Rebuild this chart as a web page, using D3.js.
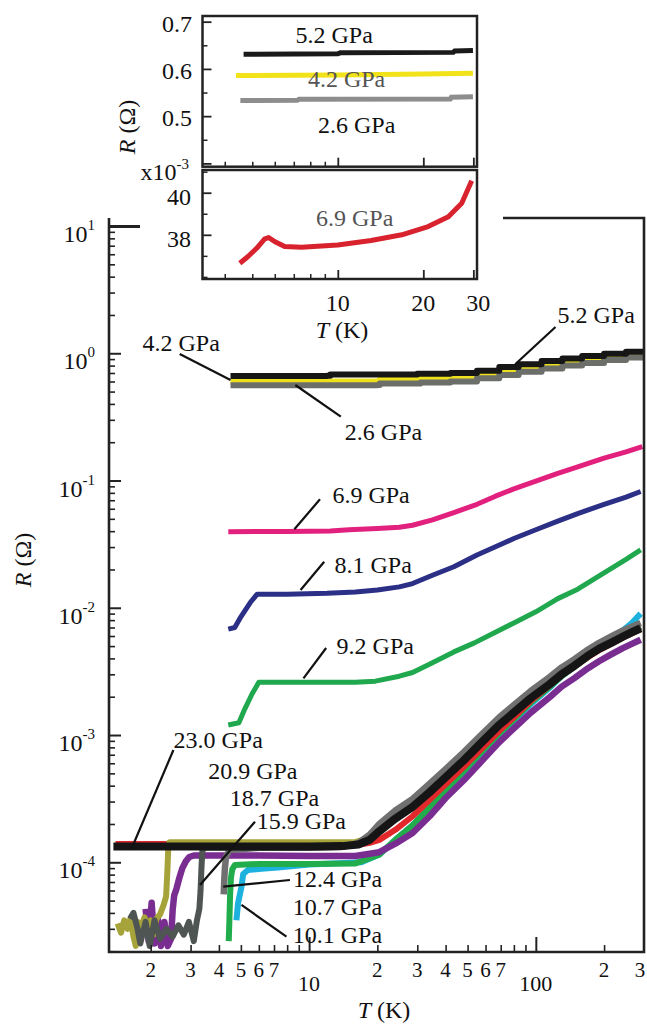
<!DOCTYPE html>
<html>
<head>
<meta charset="utf-8">
<script src="https://cdn.jsdelivr.net/npm/d3@7/dist/d3.min.js"></script>
<style>
html,body{margin:0;padding:0;background:#fff;}
svg{display:block;}
text{font-family:"Liberation Serif","Times New Roman",serif;fill:#111;}
</style>
</head>
<body>
<svg id="chart" width="647" height="1026"></svg>
<script>
// ================= DATA =================
// Main panel: [T (K), R (ohm)]
const mainP52 = [[4.5,0.662],[12,0.665],[12.4,0.682],[30,0.69],[42,0.70],[55,0.73],[69,0.78],[84,0.82],[106,0.87],[131,0.91],[160,0.95],[200,0.99],[250,1.03],[298,1.06]];
const mainP42 = [[4.5,0.60],[20,0.603],[20.5,0.62],[31,0.635],[42,0.645],[55,0.68],[69,0.72],[84,0.76],[106,0.81],[131,0.85],[160,0.89],[200,0.93],[250,0.97],[298,1.0]];
const mainP26 = [[4.5,0.56],[20,0.562],[20.5,0.578],[31,0.59],[42,0.60],[55,0.635],[69,0.675],[84,0.715],[106,0.76],[131,0.80],[160,0.84],[200,0.885],[250,0.925],[298,0.955]];
const mainP69 = [[4.4,0.0395],[6,0.0398],[8,0.0398],[10,0.040],[12.4,0.0402],[15,0.041],[20,0.042],[25,0.043],[28.6,0.0445],[35,0.049],[43.5,0.056],[55,0.065],[66,0.075],[80,0.086],[100,0.099],[125,0.114],[153,0.128],[200,0.15],[250,0.168],[295,0.185]];
const mainP81 = [[4.4,0.0068],[4.7,0.0070],[5.0,0.0085],[5.5,0.011],[5.9,0.0128],[8,0.0128],[12,0.013],[16,0.0133],[20,0.0138],[25,0.0146],[28.6,0.0155],[35,0.018],[43.5,0.021],[55,0.026],[66,0.030],[80,0.035],[100,0.041],[125,0.048],[153,0.055],[200,0.065],[250,0.074],[290,0.082]];
const mainP92 = [[4.4,0.0012],[4.9,0.00125],[5.2,0.0016],[5.6,0.0021],[6.0,0.0026],[8,0.0026],[12,0.0026],[16,0.0026],[19.6,0.00265],[25,0.0029],[28.6,0.0031],[35,0.0037],[43.5,0.0045],[53.6,0.0053],[66,0.0064],[80,0.0076],[100,0.0093],[125,0.0118],[153,0.014],[200,0.0188],[250,0.024],[290,0.0285]];
const lowBlack = [[1.37,1.33e-4],[3,1.33e-4],[6,1.33e-4],[10,1.33e-4],[14,1.34e-4],[16.5,1.38e-4],[18.5,1.5e-4],[20.4,1.75e-4],[24,2.2e-4],[28.6,2.72e-4],[34,3.55e-4],[40,4.65e-4],[48,6.3e-4],[56,8.3e-4],[69,1.2e-3],[80,1.5e-3],[95,1.95e-3],[115,2.5e-3],[130,3.0e-3],[148,3.5e-3],[170,4.2e-3],[190,4.75e-3],[215,5.3e-3],[241,5.9e-3],[265,6.4e-3],[290,6.9e-3]];
const lowRed = [[1.4,1.39e-4],[4,1.39e-4],[8,1.38e-4],[12,1.37e-4],[16.5,1.37e-4],[18.5,1.42e-4],[20.4,1.5e-4],[24,1.8e-4],[28.6,2.3e-4],[34,3.1e-4],[40,4.1e-4],[48,5.6e-4],[56,7.4e-4],[69,1.08e-3],[80,1.38e-3],[95,1.85e-3],[115,2.45e-3],[130,2.95e-3],[148,3.45e-3],[170,4.1e-3],[190,4.65e-3],[215,5.2e-3],[241,5.8e-3],[265,6.3e-3],[290,6.8e-3]];
const lowOlive = [[1.43,3.3e-5],[1.48,2.8e-5],[1.53,3.5e-5],[1.58,3.0e-5],[1.63,3.6e-5],[1.68,2.6e-5],[1.72,2.2e-5],[1.76,3.4e-5],[1.82,3.1e-5],[1.88,3.7e-5],[1.94,2.9e-5],[2.0,3.5e-5],[2.06,2.7e-5],[2.12,3.6e-5],[2.2,3.9e-5],[2.28,4.6e-5],[2.34,5.4e-5],[2.37,8.5e-5],[2.39,1.25e-4],[2.42,1.44e-4],[5,1.44e-4],[10,1.44e-4],[16,1.44e-4],[18.5,1.56e-4],[20.4,1.8e-4],[24,2.25e-4],[28.6,2.76e-4],[34,3.6e-4],[40,4.7e-4],[48,6.4e-4],[56,8.4e-4],[69,1.22e-3],[80,1.52e-3],[95,1.98e-3],[115,2.54e-3],[130,3.05e-3],[148,3.55e-3],[170,4.25e-3],[190,4.8e-3],[215,5.4e-3],[241,6.0e-3],[265,6.5e-3],[290,7.0e-3]];
const lowPurple = [[1.9,4.3e-5],[1.96,2.4e-5],[2.02,4.8e-5],[2.08,2.3e-5],[2.15,3.6e-5],[2.22,2.2e-5],[2.3,3.4e-5],[2.38,2.2e-5],[2.46,2.5e-5],[2.5,4.2e-5],[2.54,5.5e-5],[2.6,6.2e-5],[2.68,7.6e-5],[2.76,9.0e-5],[2.86,1.02e-4],[2.96,1.1e-4],[3.1,1.13e-4],[6,1.13e-4],[10,1.12e-4],[16,1.12e-4],[20.4,1.2e-4],[24,1.4e-4],[28.6,1.7e-4],[34,2.3e-4],[40,3.2e-4],[48,4.4e-4],[56,5.9e-4],[69,8.8e-4],[80,1.13e-3],[95,1.5e-3],[115,1.98e-3],[130,2.4e-3],[148,2.8e-3],[170,3.35e-3],[190,3.8e-3],[215,4.3e-3],[241,4.8e-3],[265,5.2e-3],[290,5.6e-3]];
const lowDarkGray = [[1.62,3.6e-5],[1.68,4.0e-5],[1.75,3.0e-5],[1.8,2.3e-5],[1.9,3.4e-5],[1.98,2.2e-5],[2.08,3.5e-5],[2.2,2.5e-5],[2.35,3.0e-5],[2.5,2.6e-5],[2.65,3.2e-5],[2.8,2.7e-5],[2.95,3.4e-5],[3.1,2.4e-5],[3.2,3.5e-5],[3.28,4.3e-5],[3.32,6.0e-5],[3.35,9.0e-5],[3.38,1.22e-4],[3.45,1.3e-4],[8,1.3e-4],[14,1.32e-4],[16.5,1.4e-4],[18.5,1.55e-4],[20.4,1.8e-4],[24,2.27e-4],[28.6,2.8e-4],[34,3.65e-4],[40,4.8e-4],[48,6.5e-4],[56,8.6e-4],[69,1.24e-3],[80,1.55e-3],[95,2.0e-3],[115,2.58e-3],[130,3.1e-3],[148,3.6e-3],[170,4.3e-3],[190,4.9e-3],[215,5.45e-3],[241,6.05e-3],[265,6.6e-3],[290,7.1e-3]];
const lowGray = [[4.2,5.6e-5],[4.22,7.0e-5],[4.25,9.0e-5],[4.3,1.1e-4],[4.45,1.25e-4],[6,1.3e-4],[10,1.3e-4],[14,1.32e-4],[16.5,1.42e-4],[18.5,1.65e-4],[20.4,2.0e-4],[24,2.55e-4],[28.6,3.15e-4],[34,4.15e-4],[40,5.4e-4],[48,7.3e-4],[56,9.6e-4],[69,1.38e-3],[80,1.72e-3],[95,2.22e-3],[115,2.85e-3],[130,3.4e-3],[148,3.95e-3],[170,4.7e-3],[190,5.3e-3],[215,5.95e-3],[241,6.6e-3],[265,7.1e-3],[290,7.6e-3]];
const lowGreen = [[4.42,2.4e-5],[4.45,3.5e-5],[4.48,5.5e-5],[4.52,7.5e-5],[4.58,8.8e-5],[4.7,9.5e-5],[6,9.7e-5],[10,9.7e-5],[16,9.8e-5],[20.4,1.15e-4],[24,1.5e-4],[28.6,1.95e-4],[34,2.7e-4],[40,3.7e-4],[48,5.2e-4],[56,7.0e-4],[69,1.03e-3],[80,1.33e-3],[95,1.8e-3],[115,2.4e-3],[130,2.9e-3],[148,3.45e-3],[170,4.15e-3],[190,4.75e-3],[215,5.4e-3],[241,6.1e-3],[265,6.6e-3],[290,7.1e-3]];
const lowCyan = [[4.78,3.5e-5],[4.86,4.8e-5],[5.03,6.4e-5],[5.12,8.1e-5],[5.37,8.7e-5],[6.16,8.9e-5],[7.28,9.1e-5],[10,9.6e-5],[17,1.0e-4],[20.4,1.15e-4],[24,1.5e-4],[28.6,1.95e-4],[34,2.7e-4],[40,3.65e-4],[48,5.1e-4],[56,6.8e-4],[69,1.0e-3],[80,1.3e-3],[95,1.75e-3],[115,2.35e-3],[130,2.9e-3],[148,3.45e-3],[170,4.2e-3],[190,4.9e-3],[215,5.7e-3],[241,6.6e-3],[265,7.6e-3],[290,9.0e-3]];

// Inset: upper panel R (ohm), lower panel R (x10^-3 ohm)
const insetP52 = [[4.66,0.631],[10,0.632],[10.2,0.634],[25.5,0.635],[25.8,0.638],[29.9,0.639]];
const insetP42 = [[4.38,0.586],[10,0.587],[20,0.589],[29.9,0.591]];
const insetP26 = [[4.54,0.533],[7.2,0.5335],[7.3,0.5356],[24.9,0.5365],[25.1,0.540],[29.9,0.541]];
const insetP69 = [[4.52,36.65],[4.83,36.97],[5.18,37.36],[5.53,37.81],[5.71,37.87],[5.99,37.68],[6.5,37.44],[7.45,37.41],[10,37.52],[13.1,37.73],[16.8,38.0],[20.8,38.39],[24.5,38.86],[27.3,39.5],[29.6,40.57]];

// Ticks
const mainYExps = [1, 0, -1, -2, -3, -4];
const mainXDigitTicks = [2,3,4,5,6,7,20,30,40,50,60,70,200,300];
const mainXMajorTicks = [10, 100];
const insetUpperYLabels = [0.5, 0.6, 0.7];
const insetUpperYMajor = [0.4, 0.5, 0.6, 0.7];
const insetUpperYMinor = [0.45, 0.55, 0.65];
const insetLowerYLabels = [38, 40];
const insetLowerYMinor = [36, 37, 39, 41];
const insetXLabels = [10, 20, 30];
const insetXMinor = [4,5,6,7,8,9];

// ================= DRAWING =================
const svg = d3.select("#chart");
const FONT = 23, LFONT = 24;

// ---- main scales ----
const x = d3.scaleLog().domain([1.31, 300]).range([109, 644]);
const y = d3.scaleLog().domain([Math.pow(10,-4.705), Math.pow(10,1.063)]).range([952, 218]);

const lin = d3.line().x(d => x(d[0])).y(d => y(d[1]));
const stp = d3.line().curve(d3.curveStepAfter).x(d => x(d[0])).y(d => y(d[1]));

svg.append("defs").append("clipPath").attr("id","mainClip")
  .append("rect").attr("x",109).attr("y",218).attr("width",535).attr("height",734);

const mainSeries = [
  {data: mainP42, color:"#ece01c", w:6, step:true},
  {data: mainP26, color:"#6c6e6a", w:6, step:true},
  {data: mainP52, color:"#161616", w:6, step:true},
  {data: mainP69, color:"#e2217f", w:5},
  {data: mainP81, color:"#2c2f86", w:5},
  {data: mainP92, color:"#1fa84d", w:5},
  {data: lowCyan, color:"#1db1de", w:6},
  {data: lowGreen, color:"#22ad4c", w:6},
  {data: lowPurple, color:"#7a2d91", w:6.5},
  {data: lowRed, color:"#e2282b", w:6},
  {data: lowOlive, color:"#a6a33b", w:6},
  {data: lowGray, color:"#6f706f", w:6.5},
  {data: lowDarkGray, color:"#4f5553", w:6},
  {data: lowBlack, color:"#151515", w:8}
];

const gData = svg.append("g").attr("clip-path","url(#mainClip)");
mainSeries.forEach(s => {
  gData.append("path").datum(s.data)
    .attr("d", s.step ? stp : lin)
    .attr("fill","none").attr("stroke", s.color)
    .attr("stroke-width", s.w).attr("stroke-linejoin","round").attr("stroke-linecap","butt");
});

// ---- main axes ----
const axisStroke = "#222";
function styleAxis(g, sw){ g.select(".domain").remove(); g.selectAll(".tick line").attr("stroke",axisStroke).attr("stroke-width",sw); }

const yMinor = [];
for (let e=-5; e<=1; e++) for (let k=2; k<=9; k++){ const v=k*Math.pow(10,e); if (v>=y.domain()[0] && v<=y.domain()[1]) yMinor.push(v); }
svg.append("g").attr("transform","translate(109,0)")
  .call(d3.axisRight(y).tickValues(yMinor).tickSize(6).tickFormat(""))
  .call(g => styleAxis(g, 1.6));
svg.append("g").attr("transform","translate(109,0)")
  .call(d3.axisRight(y).tickValues(mainYExps.filter(e=>e<1).map(e=>Math.pow(10,e))).tickSize(12).tickFormat(""))
  .call(g => styleAxis(g, 2));
svg.append("g").attr("transform","translate(109,0)")
  .call(d3.axisRight(y).tickValues([Math.pow(10,1)]).tickSize(31).tickFormat(""))
  .call(g => styleAxis(g, 3));

const xMinor = [];
for (let e=0; e<=2; e++) for (let k=2; k<=9; k++){ const v=k*Math.pow(10,e); if (v>=x.domain()[0] && v<x.domain()[1]) xMinor.push(v); }
svg.append("g").attr("transform","translate(0,952)")
  .call(d3.axisTop(x).tickValues(xMinor).tickSize(7).tickFormat(""))
  .call(g => styleAxis(g, 1.6));
svg.append("g").attr("transform","translate(0,952)")
  .call(d3.axisTop(x).tickValues(mainXMajorTicks).tickSize(15).tickFormat(""))
  .call(g => styleAxis(g, 2));

// frame
const [X0, X1] = x.range();
const [Y0, Y1] = [y.range()[1], y.range()[0]];
svg.append("path").attr("fill","none").attr("stroke",axisStroke).attr("stroke-width",2.6)
  .attr("d", `M${X0},${Y0}V${Y1}H${X1}V${Y0}H503`);

// y tick labels
mainYExps.forEach(e => {
  const t = svg.append("text").attr("x", 95).attr("y", y(Math.pow(10,e)) + 16)
    .attr("text-anchor","end").style("font-size", "24px");
  t.append("tspan").text("10");
  t.append("tspan").attr("dy", -12).style("font-size","15px").text(String(e));
});
// x tick labels
mainXDigitTicks.forEach(v => {
  const s = String(v)[0];
  const px = Math.min(x(v), 640);
  svg.append("text").attr("x", px).attr("y", 977).attr("text-anchor","middle")
    .style("font-size","21px").text(s);
});
mainXMajorTicks.forEach(v => {
  svg.append("text").attr("x", x(v)).attr("y", 991).attr("text-anchor","middle")
    .style("font-size","22px").text(String(v));
});
// axis titles
const xt = svg.append("text").attr("x", 384).attr("y", 1018).attr("text-anchor","middle").style("font-size", LFONT+"px");
xt.append("tspan").style("font-style","italic").text("T");
xt.append("tspan").text(" (K)");
const yt = svg.append("text").attr("transform","translate(31,560) rotate(-90)").attr("text-anchor","middle").style("font-size", LFONT+"px");
yt.append("tspan").style("font-style","italic").text("R");
yt.append("tspan").text(" (\u03A9)");

// ---- main annotations (anchor on data point, offsets in px) ----
const mainNotes = [
  {text:"5.2 GPa", at:[81.1,0.819], lead:[40.3,-37.3], txt:[42.3,-41.3]},
  {text:"4.2 GPa", at:[4.50,0.6166], lead:[-50.8,-26], txt:[-88,-29]},
  {text:"2.6 GPa", at:[8.69,0.563], lead:[45.5,31.7], txt:[49.5,55]},
  {text:"6.9 GPa", at:[8.61,0.0414], lead:[25.6,-30], txt:[38,-26.3]},
  {text:"8.1 GPa", at:[9.17,0.0138], lead:[23.6,-28.3], txt:[33.9,-17]},
  {text:"9.2 GPa", at:[9.44,0.00279], lead:[22.7,-30.3], txt:[33.1,-24.3]},
  {text:"23.0 GPa", at:[1.65,1.288e-4], lead:[41.7,-98.3], txt:[41.8,-100.3]},
  {text:"20.9 GPa", at:[3.587,4.51e-4], txt:[0,0]},
  {text:"18.7 GPa", at:[4.47,2.77e-4], txt:[0,0]},
  {text:"15.9 GPa", at:[3.30,6.63e-5], lead:[55,-63.3], txt:[56.7,-56]},
  {text:"12.4 GPa", at:[4.18,6.43e-5], lead:[66.7,-6.7], txt:[69.7,0.3]},
  {text:"10.7 GPa", at:[8.47,3.85e-5], txt:[0,0]},
  {text:"10.1 GPa", at:[5.03,4.62e-5], lead:[45,31.7], txt:[51.3,38]}
];
mainNotes.forEach(n => {
  const px = x(n.at[0]), py = y(n.at[1]);
  if (n.lead) {
    svg.append("line").attr("x1", px).attr("y1", py).attr("x2", px+n.lead[0]).attr("y2", py+n.lead[1])
      .attr("stroke","#111").attr("stroke-width",2.2);
  }
  svg.append("text").attr("x", px+n.txt[0]).attr("y", py+n.txt[1]).style("font-size", LFONT+"px").text(n.text);
});

// ================= INSET =================
const xi = d3.scaleLog().domain([3.34, 30.9]).range([202.5, 477]);
const yu = d3.scaleLinear().domain([0.393, 0.712]).range([166.7, 16]);
const yl = d3.scaleLinear().domain([35.9, 41.08]).range([279, 170]);

const linU = d3.line().x(d => xi(d[0])).y(d => yu(d[1]));
const linL = d3.line().x(d => xi(d[0])).y(d => yl(d[1]));

const insetSeriesU = [
  {data: insetP42, color:"#f2e21a", w:5},
  {data: insetP26, color:"#8d8d8d", w:5},
  {data: insetP52, color:"#1a1a1a", w:5}
];
insetSeriesU.forEach(s => {
  svg.append("path").datum(s.data).attr("d", linU).attr("fill","none")
    .attr("stroke", s.color).attr("stroke-width", s.w);
});
svg.append("path").datum(insetP69).attr("d", linL).attr("fill","none")
  .attr("stroke","#d8232e").attr("stroke-width",5).attr("stroke-linejoin","round");

// inset frames
svg.append("rect").attr("x",xi.range()[0]).attr("y",yu.range()[1])
  .attr("width",xi.range()[1]-xi.range()[0]).attr("height",yu.range()[0]-yu.range()[1])
  .attr("fill","none").attr("stroke",axisStroke).attr("stroke-width",2.5);
svg.append("rect").attr("x",xi.range()[0]).attr("y",yl.range()[1])
  .attr("width",xi.range()[1]-xi.range()[0]).attr("height",yl.range()[0]-yl.range()[1])
  .attr("fill","none").attr("stroke",axisStroke).attr("stroke-width",2.5);

// inset ticks
function insetXAxis(yPos){
  svg.append("g").attr("transform",`translate(0,${yPos})`)
    .call(d3.axisTop(xi).tickValues(insetXMinor).tickSize(5).tickFormat(""))
    .call(g => styleAxis(g, 1.5));
  svg.append("g").attr("transform",`translate(0,${yPos})`)
    .call(d3.axisTop(xi).tickValues(insetXLabels).tickSize(9).tickFormat(""))
    .call(g => styleAxis(g, 1.8));
}
insetXAxis(yu.range()[0]);
insetXAxis(yl.range()[0]);
svg.append("g").attr("transform",`translate(${xi.range()[0]},0)`)
  .call(d3.axisRight(yu).tickValues(insetUpperYMajor).tickSize(9).tickFormat(""))
  .call(g => styleAxis(g, 1.8));
svg.append("g").attr("transform",`translate(${xi.range()[0]},0)`)
  .call(d3.axisRight(yu).tickValues(insetUpperYMinor).tickSize(5).tickFormat(""))
  .call(g => styleAxis(g, 1.5));
svg.append("g").attr("transform",`translate(${xi.range()[0]},0)`)
  .call(d3.axisRight(yl).tickValues(insetLowerYLabels).tickSize(9).tickFormat(""))
  .call(g => styleAxis(g, 1.8));
svg.append("g").attr("transform",`translate(${xi.range()[0]},0)`)
  .call(d3.axisRight(yl).tickValues(insetLowerYMinor).tickSize(5).tickFormat(""))
  .call(g => styleAxis(g, 1.5));

// inset tick labels
insetUpperYLabels.forEach(v => {
  svg.append("text").attr("x",192).attr("y",yu(v)+10).attr("text-anchor","end")
    .style("font-size",LFONT+"px").text(v.toFixed(1));
});
insetLowerYLabels.forEach(v => {
  svg.append("text").attr("x",191).attr("y",yl(v)+12).attr("text-anchor","end")
    .style("font-size",LFONT+"px").text(String(v));
});
insetXLabels.forEach(v => {
  svg.append("text").attr("x",xi(v) + (v===30?5:0)).attr("y",311).attr("text-anchor","middle")
    .style("font-size",LFONT+"px").text(String(v));
});
const xm = svg.append("text").attr("x",189).attr("y",180).attr("text-anchor","end").style("font-size",LFONT+"px");
xm.append("tspan").text("x10");
xm.append("tspan").attr("dy",-11).style("font-size","15px").text("-3");

const ixt = svg.append("text").attr("x",342).attr("y",338).attr("text-anchor","middle").style("font-size",LFONT+"px");
ixt.append("tspan").style("font-style","italic").text("T");
ixt.append("tspan").text(" (K)");
const iyt = svg.append("text").attr("transform","translate(135,127) rotate(-90)").attr("text-anchor","middle").style("font-size",LFONT+"px");
iyt.append("tspan").style("font-style","italic").text("R");
iyt.append("tspan").text(" (\u03A9)");

// inset labels (data-positioned)
const insetNotesU = [
  {text:"5.2 GPa", at:[7.10,0.6548], color:"#111"},
  {text:"4.2 GPa", at:[7.85,0.5617], color:"#555"},
  {text:"2.6 GPa", at:[8.52,0.4643], color:"#111"}
];
insetNotesU.forEach(n => {
  svg.append("text").attr("x",xi(n.at[0])).attr("y",yu(n.at[1])).style("font-size",LFONT+"px")
    .style("fill",n.color).text(n.text);
});
svg.append("text").attr("x",xi(8.38)).attr("y",yl(38.42)).style("font-size",LFONT+"px")
  .style("fill","#555").text("6.9 GPa");
</script>
</body>
</html>
